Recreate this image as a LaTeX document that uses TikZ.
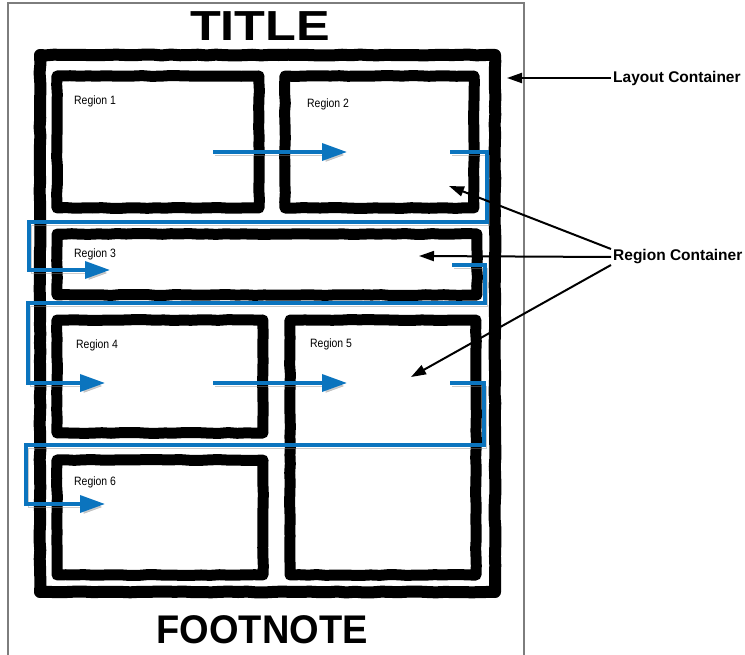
\documentclass[tikz,border=0pt]{standalone}
\usepackage{fontspec}
\setmainfont{Liberation Sans}
\usetikzlibrary{arrows.meta,calc,positioning,decorations.pathmorphing}
\definecolor{flowblue}{RGB}{11,116,190}
\definecolor{pagegray}{RGB}{125,125,125}

\begin{document}
\pgfmathsetseed{7}
\begin{tikzpicture}[
      x=1pt, y=-1pt,
      font=\fontsize{11}{13}\selectfont,
      sketch/.style={draw=black, line width=11pt, inner sep=0pt, line join=round, line cap=round,
                     decorate, decoration={random steps, segment length=9pt, amplitude=0.45pt}},
      region/.style={sketch},
      regionlbl/.style={anchor=west, inner sep=0pt},
      tag/.style={anchor=west, inner sep=2pt, font=\fontsize{15.5}{18}\bfseries\selectfont},
      callout/.style={draw=black, line width=2pt, -{Triangle[length=15pt,width=10pt]}},
      flow/.style={draw=flowblue, line width=3.5pt, -{Triangle[length=25pt,width=17pt]},
                   preaction={draw=black!45, opacity=0.45, transform canvas={shift={(2pt,-3pt)}}}},
]
\useasboundingbox (0,0) rectangle (745,655);

% sheet of paper
\draw[pagegray, line width=1.5pt] (8,3) rectangle (524,665);

\node[font=\fontsize{42}{44}\bfseries\selectfont] (title) at (260,26) {\scalebox{1.2}[1]{TITLE}};
\node[font=\fontsize{40}{42}\bfseries\selectfont] (footnote) at (262,630) {\scalebox{0.95}[1]{FOOTNOTE}};

% containers
\node[sketch, line width=12pt, minimum width=455pt, minimum height=537pt] (layout) at (267.5,323.5) {};

\node[region, minimum width=202pt, minimum height=132pt] (reg1) at (158,142) {};
\node[region, minimum width=189pt, minimum height=132pt] (reg2) at (379.5,142) {};
\node[region, minimum width=420pt, minimum height=61pt] (reg3) at (267,264.5) {};
\node[region, minimum width=206pt, minimum height=113pt] (reg4) at (160,376.5) {};
\node[region, minimum width=186pt, minimum height=255pt] (reg5) at (383,447.5) {};
\node[region, minimum width=206pt, minimum height=115pt] (reg6) at (160,517.5) {};

\node[regionlbl] (lbl1) at (74,101) {\scalebox{0.95}[1.1]{Region 1}};
\node[regionlbl] (lbl2) at (307,104) {\scalebox{0.95}[1.1]{Region 2}};
\node[regionlbl] (lbl3) at (74,254) {\scalebox{0.95}[1.1]{Region 3}};
\node[regionlbl] (lbl4) at (76,345) {\scalebox{0.95}[1.1]{Region 4}};
\node[regionlbl] (lbl5) at (310,344) {\scalebox{0.95}[1.1]{Region 5}};
\node[regionlbl] (lbl6) at (74,482) {\scalebox{0.95}[1.1]{Region 6}};

% content flow
\coordinate (a1) at (213,152);
\coordinate (a2) at (347,152);
\coordinate (b1) at (450,152);
\coordinate (bturn) at (487,222);
\coordinate (bwall) at (29,270);
\coordinate (b2) at (110,270);
\coordinate (c1) at (452,265);
\coordinate (cturn) at (485,303);
\coordinate (cwall) at (28,383);
\coordinate (c2) at (105,383);
\coordinate (d1) at (213,383);
\coordinate (d2) at (347,383);
\coordinate (e1) at (450,383);
\coordinate (eturn) at (484,445);
\coordinate (ewall) at (26,504);
\coordinate (e2) at (105,504);

\draw[flow] (a1) -- (a2);
\draw[flow] (b1) -| (bturn) -| (bwall) -- (b2);
\draw[flow] (c1) -| (cturn) -| (cwall) -- (c2);
\draw[flow] (d1) -- (d2);
\draw[flow] (e1) -| (eturn) -| (ewall) -- (e2);

% callouts
\node[tag] (lc) at (611,78) {Layout Container};
\node[tag] (rc) at (611,257) {Region Container};
\coordinate (lctip) at (507,78);
\coordinate (rctip2) at (449,186);
\coordinate (rctip3) at (419,256);
\coordinate (rctip5) at (411,377);

\draw[callout] (lc.west) -- (lctip);
\draw[callout] ([yshift=8pt]rc.west) -- (rctip2);
\draw[callout] (rc.west) -- (rctip3);
\draw[callout] ([yshift=-8pt]rc.west) -- (rctip5);

\end{tikzpicture}
\end{document}
